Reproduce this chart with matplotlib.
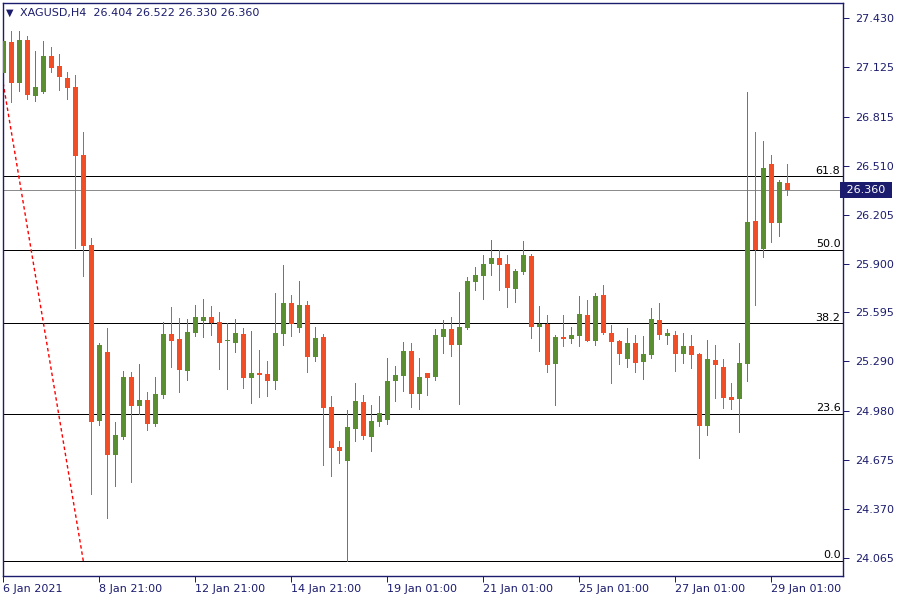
import matplotlib
matplotlib.use("Agg")
import matplotlib.pyplot as plt
import matplotlib.transforms as mtransforms
import numpy as np

# XAGUSD H4 candles (oldest -> newest)
opens = [27.091, 27.282, 27.024, 27.295, 26.947, 26.972, 27.195, 27.132, 27.057, 27.001,
         26.577, 26.016, 24.918, 25.348, 24.708, 24.820, 25.192, 25.013, 25.049, 24.901,
         25.082, 25.461, 25.429, 25.232, 25.469, 25.544, 25.567, 25.535, 25.415, 25.406,
         25.461, 25.188, 25.217, 25.211, 25.169, 25.462, 25.654, 25.500, 25.641, 25.319,
         25.442, 25.007, 24.756, 24.670, 24.870, 25.036, 24.820, 24.913, 24.926, 25.169,
         25.200, 25.354, 25.088, 25.217, 25.194, 25.444, 25.492, 25.394, 25.500, 25.787,
         25.824, 25.899, 25.935, 25.897, 25.743, 25.849, 25.947, 25.506, 25.525, 25.275,
         25.442, 25.429, 25.448, 25.579, 25.417, 25.704, 25.467, 25.417, 25.305, 25.404,
         25.286, 25.330, 25.548, 25.448, 25.454, 25.336, 25.386, 25.336, 24.889, 25.298,
         25.255, 25.068, 25.057, 25.275, 26.165, 25.993, 26.521, 26.155, 26.404]
highs = [27.336, 27.351, 27.351, 27.319, 27.226, 27.288, 27.251, 27.207, 27.095, 27.076,
         26.721, 26.058, 25.404, 25.498, 24.912, 25.230, 25.224, 25.273, 25.099, 25.192,
         25.535, 25.629, 25.560, 25.554, 25.641, 25.679, 25.635, 25.598, 25.529, 25.554,
         25.498, 25.479, 25.361, 25.292, 25.716, 25.891, 25.704, 25.791, 25.666, 25.504,
         25.461, 25.074, 24.793, 24.986, 25.155, 25.080, 25.018, 25.074, 25.311, 25.261,
         25.411, 25.404, 25.311, 25.220, 25.492, 25.548, 25.567, 25.723, 25.816, 25.879,
         25.953, 26.047, 25.985, 25.953, 25.866, 26.041, 25.960, 25.637, 25.581, 25.454,
         25.581, 25.504, 25.698, 25.673, 25.716, 25.766, 25.517, 25.423, 25.498, 25.454,
         25.448, 25.623, 25.654, 25.492, 25.479, 25.467, 25.454, 25.340, 25.423, 25.392,
         25.305, 25.155, 25.404, 26.970, 26.721, 26.664, 26.577, 26.421, 26.522]
lows = [27.062, 26.910, 26.978, 26.926, 26.916, 26.965, 27.097, 26.983, 26.926, 25.999,
        25.824, 24.464, 24.895, 24.315, 24.514, 24.807, 24.539, 24.962, 24.862, 24.889,
        25.063, 25.257, 25.101, 25.175, 25.450, 25.444, 25.456, 25.244, 25.119, 25.350,
        25.126, 25.032, 25.069, 25.076, 25.119, 25.394, 25.450, 25.475, 25.225, 25.294,
        24.645, 24.577, 24.658, 24.045, 24.795, 24.807, 24.733, 24.889, 24.901, 25.044,
        25.107, 25.007, 24.995, 25.082, 25.175, 25.344, 25.325, 25.026, 25.494, 25.737,
        25.681, 25.830, 25.737, 25.631, 25.662, 25.837, 25.437, 25.356, 25.225, 25.020,
        25.388, 25.404, 25.386, 25.414, 25.392, 25.461, 25.155, 25.273, 25.255, 25.224,
        25.180, 25.311, 25.429, 25.398, 25.230, 25.280, 25.248, 24.689, 24.832, 25.063,
        25.001, 24.995, 24.851, 25.169, 25.643, 25.943, 26.036, 26.074, 26.330]
closes = [27.288, 27.024, 27.295, 26.953, 27.001, 27.195, 27.122, 27.066, 26.997, 26.573,
          26.011, 24.913, 25.392, 24.708, 24.831, 25.192, 25.013, 25.049, 24.901, 25.086,
          25.461, 25.419, 25.238, 25.473, 25.567, 25.567, 25.529, 25.406, 25.419, 25.467,
          25.188, 25.217, 25.207, 25.169, 25.467, 25.654, 25.525, 25.641, 25.319, 25.436,
          25.001, 24.751, 24.733, 24.880, 25.043, 24.826, 24.918, 24.968, 25.167, 25.205,
          25.354, 25.088, 25.192, 25.188, 25.454, 25.492, 25.394, 25.504, 25.791, 25.829,
          25.897, 25.935, 25.893, 25.749, 25.854, 25.953, 25.506, 25.525, 25.269, 25.442,
          25.431, 25.454, 25.585, 25.417, 25.698, 25.467, 25.411, 25.336, 25.404, 25.280,
          25.336, 25.554, 25.454, 25.467, 25.336, 25.386, 25.330, 24.889, 25.305, 25.269,
          25.063, 25.051, 25.280, 26.159, 25.986, 26.496, 26.155, 26.409, 26.360]

# time axis labels (every 12th bar)
xtick_bars = [0, 12, 24, 36, 48, 60, 72, 84, 96]
xtick_labels = ["6 Jan 2021", "8 Jan 21:00", "12 Jan 21:00", "14 Jan 21:00", "19 Jan 01:00",
                "21 Jan 01:00", "25 Jan 01:00", "27 Jan 01:00", "29 Jan 01:00"]
ytick_vals = [27.430, 27.125, 26.815, 26.510, 26.205, 25.900, 25.595, 25.290,
              24.980, 24.675, 24.370, 24.065]

# Fibonacci retracement: anchor points (bar index, price) and visible levels
fib_bars = [-3.04, 10.0]
fib_prices = [27.925, 24.045]
fib_levels = [0.0, 23.6, 38.2, 50.0, 61.8]

UP = "#5b8e31"
DOWN = "#f14e27"
NAVY = "#1c1c6e"
PX = 0.72  # one pixel in points at 100 dpi

opens, highs, lows, closes = map(np.array, (opens, highs, lows, closes))
x = np.arange(len(opens))
colors = np.where(closes >= opens, UP, DOWN)

fig = plt.figure(figsize=(9, 6), dpi=100)
ax = fig.add_axes([2.5 / 900, 24 / 600, 840.5 / 900, 573 / 600])
blend = mtransforms.blended_transform_factory(ax.transAxes, ax.transData)

# fib levels + dotted trend line
hi, lo = fib_prices
for lev in fib_levels:
    p = lo + (hi - lo) * lev / 100
    ax.axhline(p, color="black", lw=PX, zorder=1, antialiased=False)
    ax.text(0.997, p + 0.004, f"{lev:.1f}", transform=blend,
            ha="right", va="bottom", fontsize=8, color="black")
ax.plot(fib_bars, fib_prices, color="red", lw=1.0, ls=(0, (2.5, 2)), zorder=1)

# current price line
last = closes[-1]
ax.axhline(last, color="#8c8c8c", lw=PX, zorder=1, antialiased=False)

# candles
ax.vlines(x, lows, highs, colors=colors, lw=PX, zorder=2, antialiased=False)
body_lo = np.minimum(opens, closes)
body_h = np.maximum(np.abs(closes - opens), 0.007)
ax.bar(x, body_h, bottom=body_lo, width=0.62, color=colors, lw=0, zorder=3)

ax.set_xlim(-0.1, 104.96)
ax.set_ylim(23.951, 27.525)

ax.yaxis.tick_right()
ax.set_yticks(ytick_vals)
ax.set_yticklabels([f"{v:.3f}" for v in ytick_vals])
ax.set_xticks(xtick_bars)
ax.set_xticklabels(xtick_labels)
for lbl in ax.get_xticklabels():
    lbl.set_ha("left")
ax.tick_params(axis="both", direction="out", length=4, width=PX, color=NAVY,
               labelcolor=NAVY, labelsize=8)
ax.tick_params(axis="y", pad=5)
ax.tick_params(axis="x", pad=2)
for spine in ax.spines.values():
    spine.set_color(NAVY)
    spine.set_linewidth(1.0)

# current price tag on the axis
ax.text(1.0, last, f" {last:.3f} ", transform=blend,
        ha="left", va="center", fontsize=8, color="white", clip_on=False,
        bbox=dict(boxstyle="square,pad=0.25", fc=NAVY, ec="none"))

# header line
fig.text(6 / 900, 1 - 13 / 600, "\u25BC", fontsize=7, color=NAVY, va="center")
fig.text(20 / 900, 1 - 13 / 600,
         f"XAGUSD,H4  {opens[-1]:.3f} {highs[-1]:.3f} {lows[-1]:.3f} {closes[-1]:.3f}",
         fontsize=8, color=NAVY, va="center")

fig.savefig("out.png", dpi=100, facecolor="white")
